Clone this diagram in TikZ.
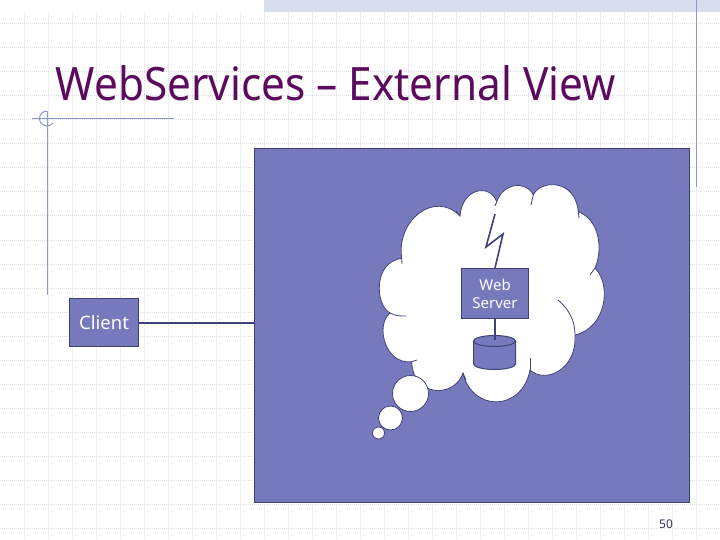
\documentclass[tikz,border=0pt]{standalone}
\usepackage{fontspec}
\setmainfont{Noto Sans}
\newfontfamily\titlefont[FakeStretch=0.92]{Noto Sans}
\definecolor{boxfill}{HTML}{767ABD}
\definecolor{boxedge}{HTML}{3F4278}
\definecolor{gridc}{HTML}{DDDFE8}
\definecolor{guide}{HTML}{8E99C9}
\definecolor{titlec}{HTML}{5C0A5E}
\definecolor{bandc}{HTML}{D9DEEE}
\tikzset{
  gridline/.style={gridc,line width=1pt,densely dotted},
  guideline/.style={guide,line width=1pt},
  blockbox/.style={draw=boxedge,fill=boxfill,line width=1.1pt,inner sep=0pt,text=white,align=center},
  wire/.style={boxedge,line width=2pt},
  cloudline/.style={draw=boxedge,fill=white,line width=0.8pt},
  creaseline/.style={boxedge,line width=0.8pt}
}
\begin{document}
\begin{tikzpicture}[x=1pt,y=-1pt]
\useasboundingbox (0,0) rectangle (720,540);
\fill[white] (0,0) rectangle (720,540);
% grid
\foreach \gx in {24,48,...,696} \draw[gridline] (\gx,12) -- (\gx,540);
\foreach \gy in {24,48,...,528} \draw[gridline] (0,\gy) -- (720,\gy);
% top band
\fill[bandc] (264,0) rectangle (720,12);
% guides
\draw[guideline] (696,0) -- (696,187);
\draw[guideline] (47,111) -- (47,295);
\draw[guideline] (32,119) -- (174,119);
\draw[guideline] (47,111) arc[start angle=270,end angle=35,radius=7.5];
% title
\node[anchor=base west,inner sep=0pt,text=titlec,font=\titlefont\fontsize{46}{50}\selectfont] (title) at (55.5,101) {WebServices – External View};
% big panel
\node[draw=boxedge,fill=boxfill,line width=1.1pt,minimum width=435pt,minimum height=354pt,inner sep=0pt,anchor=north west] (panel) at (254,148) {};
% client
\node[blockbox,font=\fontsize{18.5}{20}\selectfont,minimum width=69pt,minimum height=48pt,anchor=north west] (client) at (69,298) {Client};
\draw[wire] (client.east) -- (client.east -| panel.west);
% cloud
\draw[cloudline]
 (496.7,201.7)
 .. controls (503,183) and (526,180) .. (533.3,195)
 .. controls (540,180) and (575,178) .. (578.3,211.7)
 .. controls (600,220) and (603,250) .. (595,268)
 .. controls (612,285) and (606,328) .. (575,335)
 .. controls (577,370) and (545,384) .. (530,370)
 .. controls (522,412) and (472,412) .. (463,373)
 .. controls (455,398) and (413,398) .. (411.7,361.7)
 .. controls (385,365) and (375,325) .. (390,313)
 .. controls (375,305) and (373,262) .. (401.7,258.3)
 .. controls (396,220) and (435,190) .. (460,216)
 .. controls (462,188) and (490,183) .. (496.7,201.7)
 -- cycle;
% creases
\draw[creaseline] (595,268) -- (590,275);
\draw[creaseline] (558,300) .. controls (570,310) and (575,322) .. (575,335);
\draw[creaseline] (530,370) -- (530,358);
\draw[creaseline] (463,373) -- (466,380);
\draw[creaseline] (411.7,361.7) -- (417,360);
\draw[creaseline] (390,313) .. controls (395,316) and (400,316) .. (406,316);
\draw[creaseline] (401.7,258.3) -- (402,264);
\draw[creaseline] (460,216) -- (456,211);
\draw[creaseline] (496.7,201.7) -- (495,206);
\draw[creaseline] (533.3,195) -- (531,205);
\draw[creaseline] (578.3,211.7) -- (579,218);
% thought bubbles
\node[cloudline,circle,minimum size=36pt,inner sep=0pt] (bubbleA) at (410.5,393.5) {};
\node[cloudline,circle,minimum size=24pt,inner sep=0pt] (bubbleB) at (390.5,418) {};
\node[cloudline,circle,minimum size=12pt,inner sep=0pt] (bubbleC) at (378.5,433) {};
% server
\node[blockbox,font=\fontsize{15}{18}\selectfont,minimum width=67pt,minimum height=50pt,anchor=north west] (server) at (461,268) {Web\\Server};
\coordinate (boltA) at (495,214);
\coordinate (boltB) at (486,247);
\coordinate (boltC) at (503,234);
\coordinate (boltD) at (495,268);
\draw[wire,line width=1.6pt,line join=miter] (boltA) -- (boltB) -- (boltC) -- (boltD);
% cylinder
\draw[draw=boxedge,fill=boxfill,line width=1pt] (473.5,341) -- (473.5,364) arc[start angle=180,end angle=0,x radius=21,y radius=5.5] -- (515.5,341);
\draw[draw=boxedge,fill=boxfill,line width=1pt] (494.5,341) ellipse[x radius=21,y radius=5.5];
\coordinate (serverFoot) at (495,318);
\coordinate (diskTop) at (495,340);
\draw[wire] (serverFoot) -- (diskTop);
% page number
\node[anchor=base,inner sep=0pt,text=boxedge!80!black,font=\fontsize{12}{13}\selectfont] (pagenum) at (666,528) {50};
\end{tikzpicture}
\end{document}
